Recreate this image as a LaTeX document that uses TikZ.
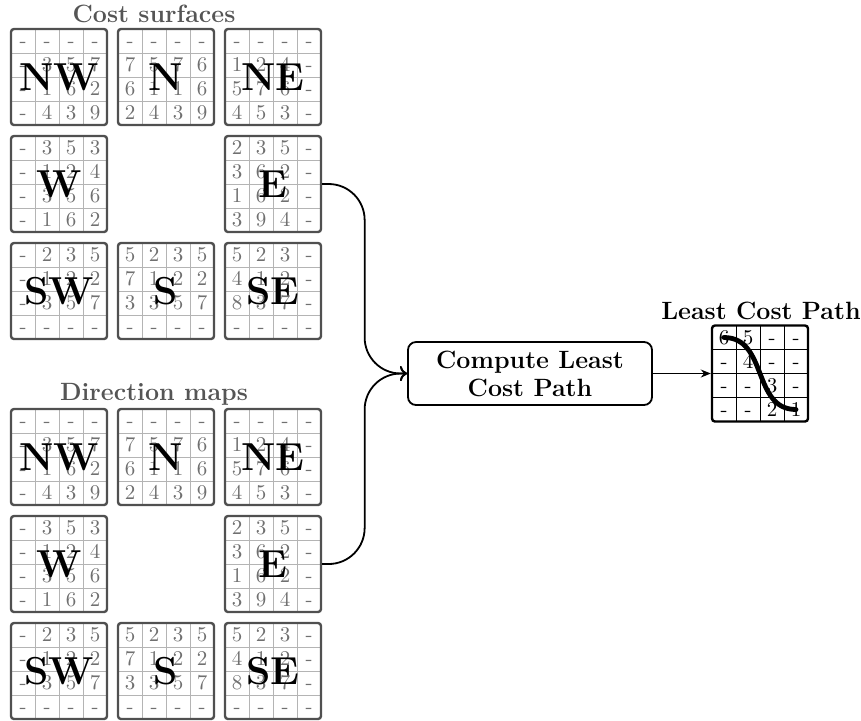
\documentclass[tikz,border=0pt]{standalone}
\usetikzlibrary{calc,arrows.meta}
\definecolor{gridborder}{HTML}{505050}
\definecolor{gridinner}{HTML}{B4B4B4}
\definecolor{digitgray}{HTML}{707070}
\definecolor{titlegray}{HTML}{555555}
\tikzset{
  gridbox/.style={draw=gridborder, line width=1.2pt, rounded corners=1.5pt, minimum size=48pt, inner sep=0pt},
  lcbox/.style={gridbox, draw=black},
  innerline/.style={draw=gridinner, line width=0.4pt},
  lcinner/.style={draw=black, line width=0.4pt},
  digitnode/.style={text=digitgray, font=\fontsize{10.5}{12}\selectfont, inner sep=0pt, text height=6.9pt, text depth=0pt},
  lcdigit/.style={digitnode, text=black},
  biglabel/.style={font=\fontsize{19.5}{21}\selectfont\bfseries, inner sep=0pt},
  titletext/.style={font=\fontsize{12.5}{15}\selectfont\bfseries, text=titlegray, anchor=base, inner sep=0pt},
  procbox/.style={draw, line width=0.9pt, rounded corners=4pt, minimum width=122pt, minimum height=31.5pt, align=center, font=\fontsize{12.5}{15}\selectfont\bfseries, inner sep=0pt},
  conn/.style={draw, line width=0.9pt, rounded corners=18pt, ->},
  lcpath/.style={draw, line width=2.4pt, line cap=round},
}
% #1 name, #2 cx, #3 cy, #4 label, #5 rows, #6 line style, #7 digit style, #8 box style
\newcommand\mygrid[8]{%
  \foreach \k in {-24,0,24}{
    \draw[#6] (#2+\k, #3-48) -- (#2+\k, #3+48);
    \draw[#6] (#2-48, #3+\k) -- (#2+48, #3+\k);
  }
  \foreach \row [count=\r] in {#5}{
    \foreach \v [count=\c] in \row {
      \node[#7] (#1-\r-\c) at (#2-60+24*\c, #3-60+24*\r) {\v};
    }
  }
  \node[#8] (#1) at (#2,#3) {};
  \ifx\relax#4\relax\else\node[biglabel] (#1-lbl) at (#1.center) {#4};\fi
}
\newcommand\gridset[2]{% prefix, top-row center y
  \mygrid{#1NW}{59}{#2}{NW}{{-,-,-,-},{-,3,5,7},{-,1,6,2},{-,4,3,9}}{innerline}{digitnode}{gridbox}
  \mygrid{#1N}{166}{#2}{N}{{-,-,-,-},{7,5,7,6},{6,1,1,6},{2,4,3,9}}{innerline}{digitnode}{gridbox}
  \mygrid{#1NE}{273}{#2}{NE}{{-,-,-,-},{1,2,4,-},{5,7,6,-},{4,5,3,-}}{innerline}{digitnode}{gridbox}
  \mygrid{#1W}{59}{#2+107}{W}{{-,3,5,3},{-,1,2,4},{-,3,5,6},{-,1,6,2}}{innerline}{digitnode}{gridbox}
  \mygrid{#1E}{273}{#2+107}{E}{{2,3,5,-},{3,6,2,-},{1,6,2,-},{3,9,4,-}}{innerline}{digitnode}{gridbox}
  \mygrid{#1SW}{59}{#2+214}{SW}{{-,2,3,5},{-,1,2,2},{-,3,5,7},{-,-,-,-}}{innerline}{digitnode}{gridbox}
  \mygrid{#1S}{166}{#2+214}{S}{{5,2,3,5},{7,1,2,2},{3,3,5,7},{-,-,-,-}}{innerline}{digitnode}{gridbox}
  \mygrid{#1SE}{273}{#2+214}{SE}{{5,2,3,-},{4,1,2,-},{8,3,7,-},{-,-,-,-}}{innerline}{digitnode}{gridbox}
}
\begin{document}
\begin{tikzpicture}[x=0.5pt,y=-0.5pt]
\useasboundingbox (0,0) rectangle (861,720);
\node[titletext] (costtitle) at (154,22) {Cost surfaces};
\gridset{c}{77}
\node[titletext] (dirtitle) at (154,400) {Direction maps};
\gridset{d}{457}
\node[procbox] (box) at (530,373.5) {Compute Least\\[-1pt]Cost Path};
\mygrid{lc}{760}{373.5}{}{{6,5,-,-},{-,4,-,-},{-,-,3,-},{-,-,2,1}}{lcinner}{lcdigit}{lcbox}
\node[titletext, text=black] (lctitle) at (761,319) {Least Cost Path};
\draw[lcpath] (lc-1-1.center) to[out=0,in=180,looseness=1.1] (lc-4-4.center);
\draw[conn] (cE.east) -| ($(cE.east)!0.5!(box.west)$) |- (box.west);
\draw[conn] (dE.east) -| ($(dE.east)!0.5!(box.west)$) |- (box.west);
\draw[line width=0.7pt, -{Stealth[length=5pt,width=4pt]}] (box.east) -- (lc.west);
\end{tikzpicture}
\end{document}
